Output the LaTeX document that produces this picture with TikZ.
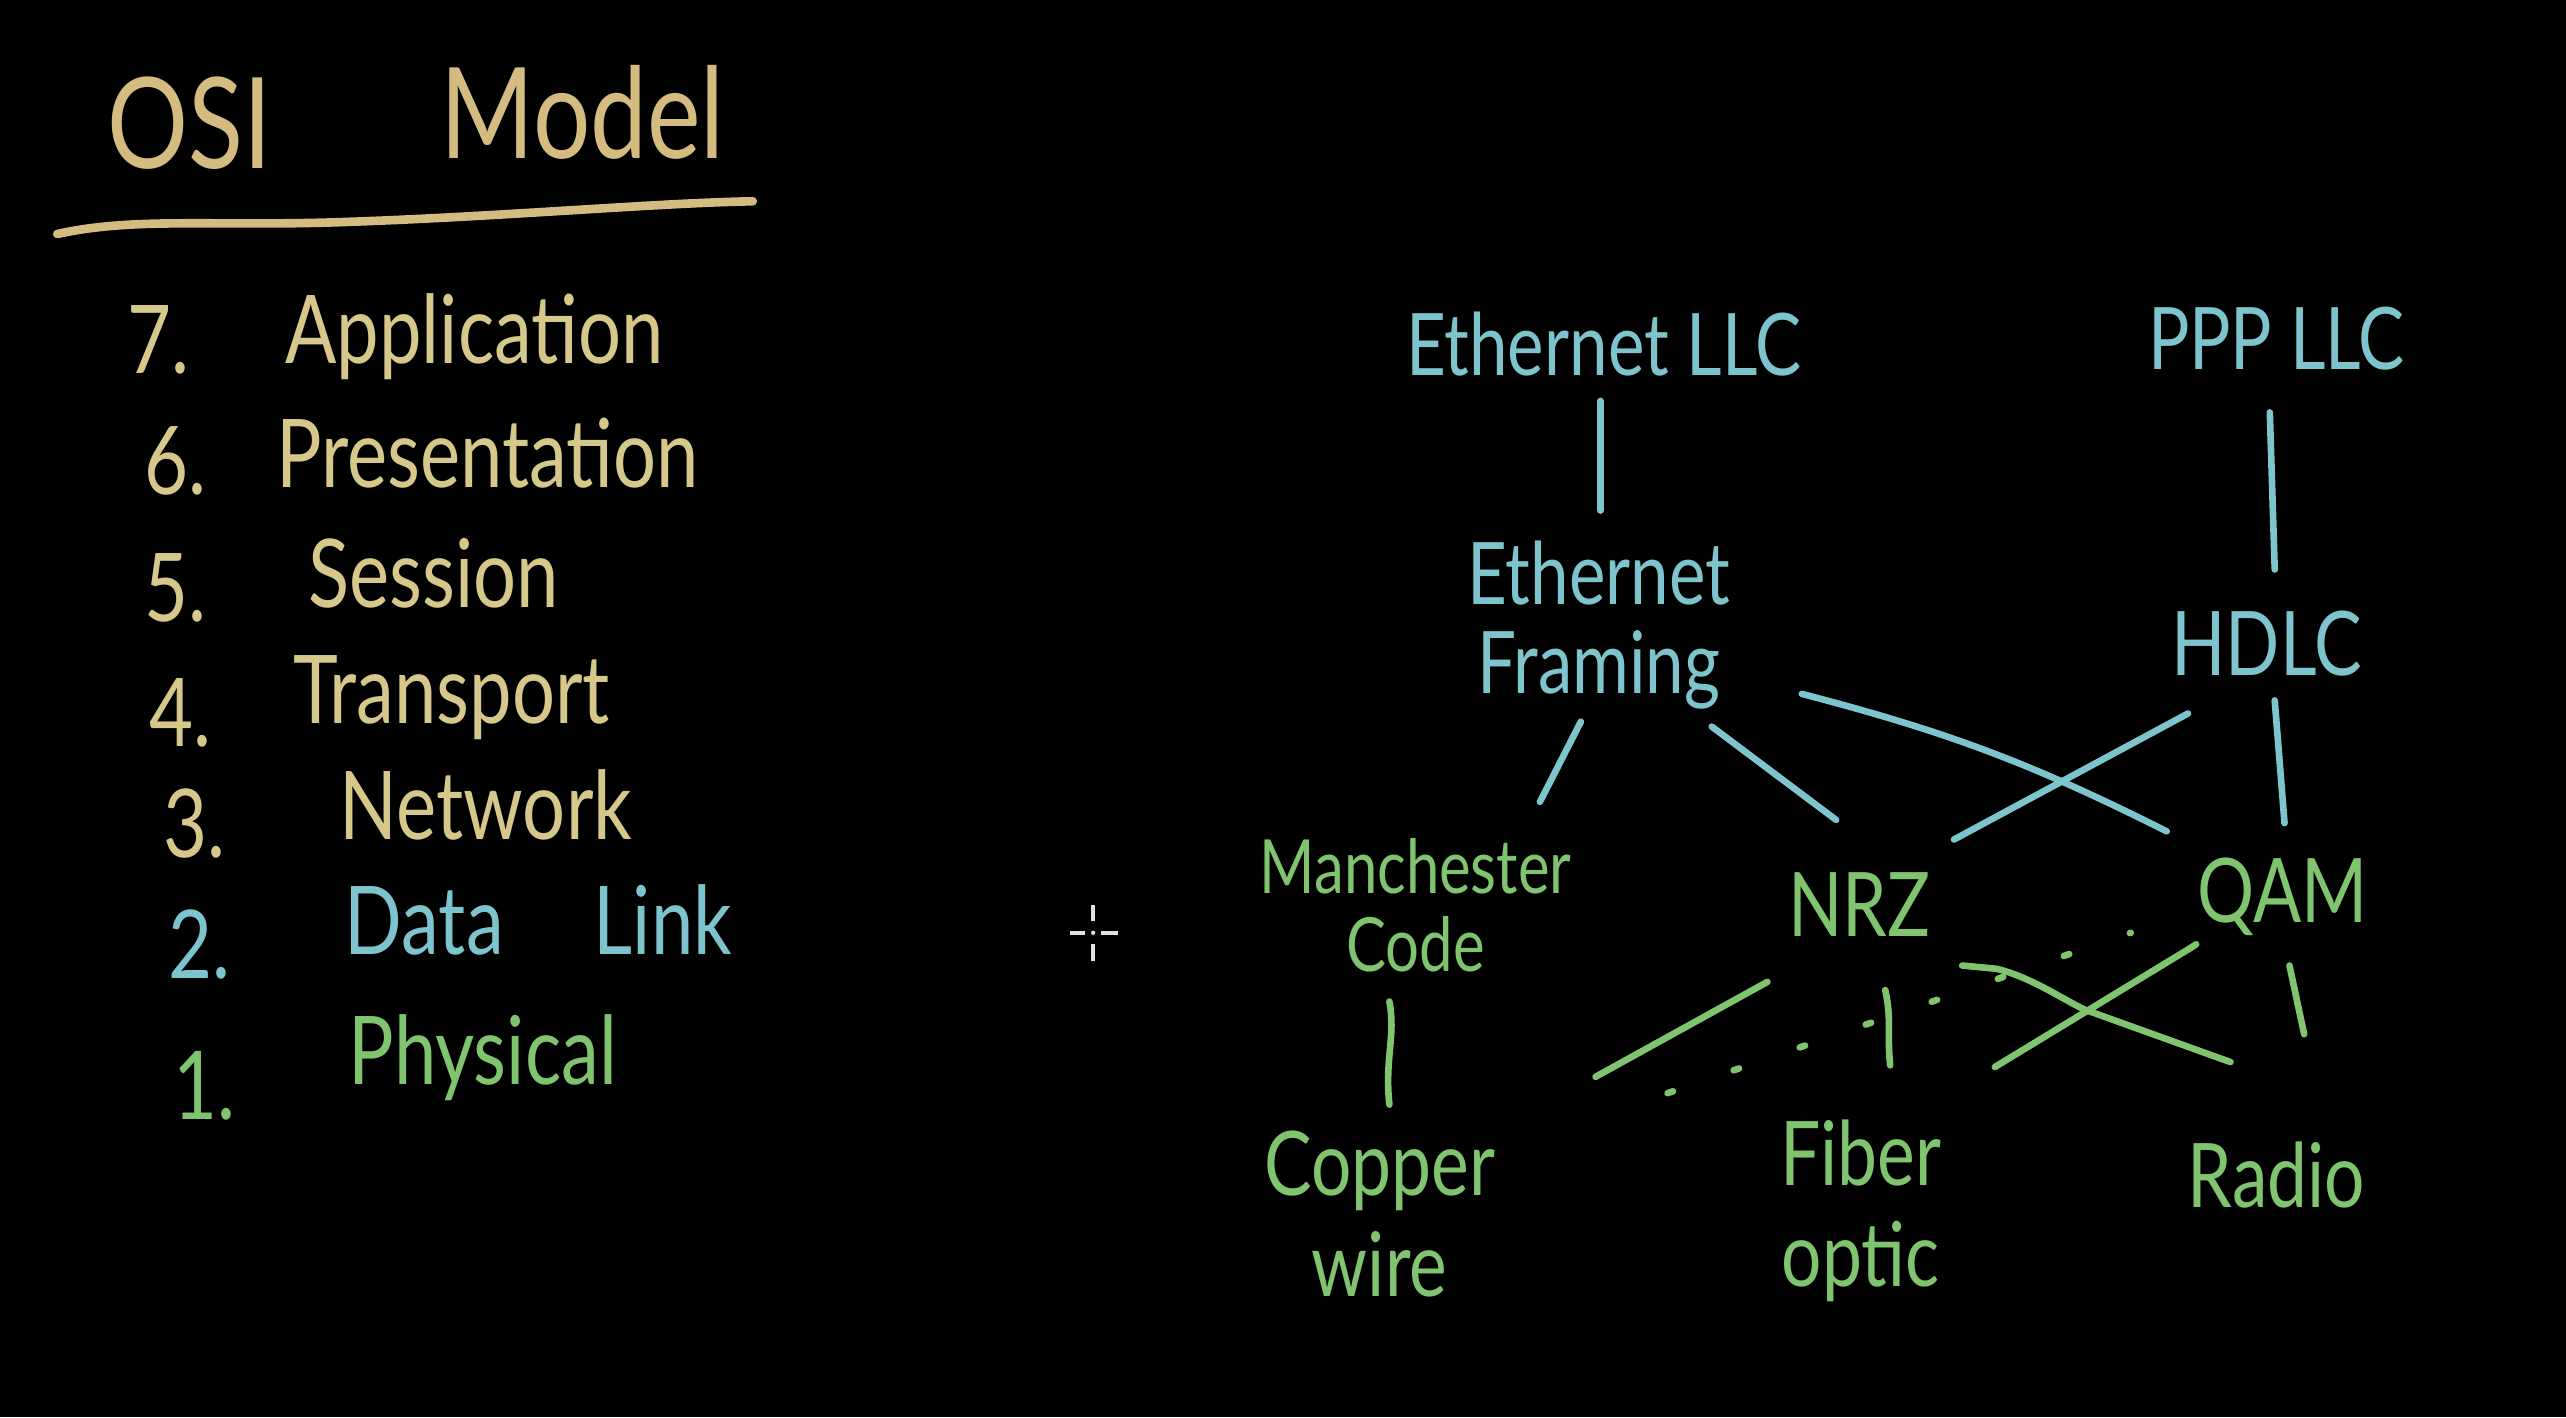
\documentclass[tikz,border=0pt]{standalone}
\usepackage{fontspec}
\setmainfont{Lato}[FakeStretch=0.8]
\usetikzlibrary{calc}
\definecolor{gold}{RGB}{214,200,138}
\definecolor{tanline}{RGB}{212,188,128}
\definecolor{cyanish}{RGB}{125,196,204}
\definecolor{leaf}{RGB}{128,196,112}
\definecolor{cursor}{RGB}{225,225,225}
\begin{document}
\begin{tikzpicture}[x=0.2mm,y=-0.2mm,
  lbl/.style={inner sep=0pt,outer sep=0pt},
  title/.style={lbl,anchor=base,text=tanline,font=\fontsize{44}{48}\selectfont},
  layer/.style={lbl,anchor=base,font=\fontsize{33}{36}\selectfont},
  dlnode/.style={lbl,text=cyanish,align=center,font=\fontsize{30}{31}\selectfont},
  phnode/.style={lbl,text=leaf,align=center,font=\fontsize{31}{35}\selectfont},
  conn/.style={line width=2.3pt,line cap=round,line join=round},
  bconn/.style={conn,draw=cyanish},
  gconn/.style={conn,draw=leaf}]
\fill[black] (0,0) rectangle (1568,866);
\useasboundingbox (0,0) rectangle (1568,866);

% title
\node[title] (osi) at (116,103) {OSI};
\node[title] (model) at (356,97) {Model};
\coordinate (ulA) at (35,143);
\coordinate (ulB) at (460,123);
\draw[line width=3pt,line cap=round,draw=tanline] (ulA) .. controls (80,133) and (125,138) .. (200,136) .. controls (300,133) and (400,124) .. (ulB);

% OSI layers
\node[layer,text=gold] (n7) at (97,228) {7.};
\node[layer,text=gold] (l7) at (290,222) {Application};
\node[layer,text=gold] (n6) at (107,302) {6.};
\node[layer,text=gold] (l6) at (298,298) {Presentation};
\node[layer,text=gold] (n5) at (107,380) {5.};
\node[layer,text=gold] (l5) at (265,371) {Session};
\node[layer,text=gold] (n4) at (110,456) {4.};
\node[layer,text=gold] (l4) at (276,442) {Transport};
\node[layer,text=gold] (n3) at (119,524) {3.};
\node[layer,text=gold] (l3) at (297,513) {Network};
\node[layer,text=cyanish] (n2) at (122,598) {2.};
\node[layer,text=cyanish] (l2) at (329,583) {Data\hspace{0.95em}Link};
\node[layer,text=leaf] (n1) at (125,684) {1.};
\node[layer,text=leaf] (l1) at (295,663) {Physical};

% cursor crosshair
\coordinate (cur) at (668,570);
\draw[cursor,line width=1.2pt] ($(cur)+(0,-17)$) -- ($(cur)+(0,-7)$)
  ($(cur)+(0,7)$) -- ($(cur)+(0,17)$)
  ($(cur)+(-14,0)$) -- ($(cur)+(-5,0)$)
  ($(cur)+(5,0)$) -- ($(cur)+(15,0)$);
\fill[cursor] (cur) circle (1.3);

% data link nodes
\node[dlnode] (ellc) at (980,210) {Ethernet LLC};
\node[dlnode] (pllc) at (1391,207) {PPP LLC};
\node[dlnode] (efr) at (977,382) {Ethernet\\Framing};
\node[dlnode,font=\fontsize{31}{31}\selectfont] (hdlc) at (1385,393) {HDLC};

% physical nodes
\node[phnode,font=\fontsize{26}{27}\selectfont] (man) at (865,553) {Manchester\\Code};
\node[phnode] (nrz) at (1136,553) {NRZ};
\node[phnode] (qam) at (1395,548) {QAM};
\node[phnode] (cop) at (843,742) {Copper\\wire};
\node[phnode] (fib) at (1137,740) {Fiber\\optic};
\node[phnode] (rad) at (1391,718) {Radio};

% blue connectors
\draw[bconn] ($(ellc)+(-2,35)$) -- ($(efr)+(1,-70)$);
\draw[bconn] ($(pllc)+(-4,45)$) -- ($(hdlc)+(5,-45)$);
\draw[bconn] ($(efr)+(-11,59)$) -- ($(man)+(76,-63)$);
\draw[bconn] ($(efr)+(69,62)$) -- ($(nrz)+(-14,-52)$);
\draw[bconn] ($(efr)+(124,42)$) to[bend left=6] ($(qam)+(-71,-40)$);
\draw[bconn] ($(hdlc)+(-48,43)$) -- ($(nrz)+(58,-40)$);
\draw[bconn] ($(hdlc)+(5,35)$) -- ($(qam)+(1,-45)$);

% green connectors
\draw[gconn] ($(man)+(-16,59)$) .. controls ($(man)+(-12,80)$) and ($(cop)+(3,-95)$) .. ($(cop)+(6,-67)$);
\draw[gconn] ($(nrz)+(-56,47)$) -- ($(cop)+(132,-84)$);
\draw[gconn] ($(nrz)+(16,52)$) .. controls ($(nrz)+(20,70)$) and ($(fib)+(16,-110)$) .. ($(fib)+(18,-89)$);
\draw[gconn,dash pattern=on 2pt off 22.3pt] ($(cop)+(176,-74)$) -- ($(qam)+(-93,22)$);
\draw[gconn] ($(nrz)+(63,37)$) -- ($(nrz)+(84,39)$) .. controls ($(nrz)+(105,44)$) and ($(nrz)+(125,58)$) .. ($(nrz)+(138,64)$) -- ($(rad)+(-28,-69)$);
\draw[gconn] ($(fib)+(82,-88)$) -- ($(qam)+(-56,31)$) -- ($(qam)+(-53,29)$);
\draw[gconn] ($(qam)+(4,42)$) -- ($(rad)+(17,-86)$);
\end{tikzpicture}
\end{document}
